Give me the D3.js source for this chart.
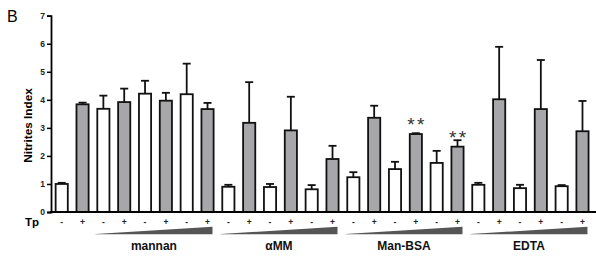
<!DOCTYPE html>
<html><head><meta charset="utf-8">
<script src="https://cdn.jsdelivr.net/npm/d3@7"></script>
<style>body{margin:0;background:#fff;overflow:hidden}svg{display:block}</style>
</head><body>
<script>
// ---- data ----
const tpSigns = ["-","+","-","+","-","+","-","+","-","+","-","+","-","+","-","+","-","+","-","+","-","+","-","+","-","+"];
const means = [1.00,3.84,3.68,3.92,4.22,3.97,4.20,3.67, 0.90,3.18,0.89,2.91,0.81,1.89, 1.24,3.36,1.53,2.78,1.75,2.33, 0.97,4.02,0.85,3.67,0.92,2.88];
const errs  = [0.04,0.06,0.47,0.48,0.46,0.28,1.09,0.22, 0.07,1.45,0.11,1.20,0.15,0.47, 0.18,0.43,0.26,0.03,0.43,0.23, 0.07,1.87,0.12,1.75,0.04,1.08];
const sig   = ["","","","","","","","", "","","","","","", "","","","**","","**", "","","","","",""];
const groupNames = ["mannan","αMM","Man-BSA","EDTA"];
const groupStart = [2,8,14,20];
const groupEnd   = [7,13,19,25];
const yTicks = [0,1,2,3,4,5,6,7];

// ---- drawing ----
const W = 596, H = 257;
const svg = d3.select("body").append("svg").attr("width", W).attr("height", H)
  .style("font-family", "'Liberation Sans', Arial, sans-serif");

const idx = d3.range(means.length);
const x = d3.scaleBand().domain(idx).range([51.3, 592.9]).paddingInner(0.33).paddingOuter(0.165);
const y = d3.scaleLinear().domain([0, 7]).range([212, 15.7]);
const bw = x.bandwidth();
const sw = 1.8;

// panel letter
svg.append("text").attr("x", 7).attr("y", 22).attr("font-size", 16).text("B");

// y axis
const yAxis = d3.axisLeft(y).tickValues(yTicks).tickSize(4).tickPadding(2).tickFormat(d3.format("d"));
const ga = svg.append("g").attr("transform", "translate(51,0)").call(yAxis);
ga.select(".domain").attr("stroke", "#000").attr("stroke-width", 1.8);
ga.selectAll(".tick line").attr("stroke", "#000").attr("stroke-width", 1.5);
ga.selectAll(".tick text").attr("font-size", 8.5).attr("font-weight", "bold").attr("fill", "#222")
  .attr("font-family", "'Liberation Sans', Arial, sans-serif");

svg.append("text").attr("transform", "translate(31.5,125.5) rotate(-90)")
  .attr("text-anchor", "middle").attr("font-size", 11.8).attr("font-weight", "bold").text("Nitrites Index");

// bars
svg.selectAll("rect.bar").data(idx).join("rect").attr("class", "bar")
  .attr("x", i => x(i) + sw/2).attr("width", bw - sw)
  .attr("y", i => y(means[i])).attr("height", i => y(0) - y(means[i]))
  .attr("fill", i => tpSigns[i] === "+" ? "#a7a7aa" : "#fff")
  .attr("stroke", "#111").attr("stroke-width", sw);

// error bars
const eb = svg.selectAll("g.err").data(idx).join("g").attr("class", "err");
eb.append("line")
  .attr("x1", i => x(i) + bw/2).attr("x2", i => x(i) + bw/2)
  .attr("y1", i => y(means[i])).attr("y2", i => y(means[i] + errs[i]))
  .attr("stroke", "#111").attr("stroke-width", sw);
eb.append("line")
  .attr("x1", i => x(i) + bw/2 - 4).attr("x2", i => x(i) + bw/2 + 4)
  .attr("y1", i => y(means[i] + errs[i])).attr("y2", i => y(means[i] + errs[i]))
  .attr("stroke", "#111").attr("stroke-width", sw);

// x baseline
svg.append("line").attr("x1", 50).attr("x2", W).attr("y1", y(0)).attr("y2", y(0))
  .attr("stroke", "#000").attr("stroke-width", 1.8);

// significance stars
svg.selectAll("text.sig").data(idx.filter(i => sig[i])).join("text").attr("class", "sig")
  .attr("x", i => x(i) + bw/2 + 1.2).attr("y", i => y(means[i]) - 3)
  .attr("text-anchor", "middle").attr("font-size", 19).attr("fill", "#333")
  .attr("letter-spacing", 2.4).text(i => sig[i]);

// Tp row
svg.append("text").attr("x", 25).attr("y", 225.5).attr("font-size", 11.5).attr("font-weight", "bold").text("Tp");
svg.selectAll("text.tp").data(idx).join("text").attr("class", "tp")
  .attr("x", i => x(i) + bw/2).attr("y", 225)
  .attr("text-anchor", "middle").attr("font-size", 8.5).attr("font-weight", "bold").attr("fill", "#222")
  .text(i => tpSigns[i]);

// wedges + group labels
groupNames.forEach((g, k) => {
  const x0 = x(groupStart[k]) - 1;
  const x1 = x(groupEnd[k]) + bw - 2;
  svg.append("path").attr("d", `M${x0},234 L${x1},226.8 L${x1},234.2 L${x0},234.2 Z`).attr("fill", "#555");
  svg.append("text").attr("x", (x0 + x1) / 2).attr("y", 250)
    .attr("text-anchor", "middle").attr("font-size", 12).attr("font-weight", "bold").attr("fill", "#111").text(g);
});
</script>
</body></html>
